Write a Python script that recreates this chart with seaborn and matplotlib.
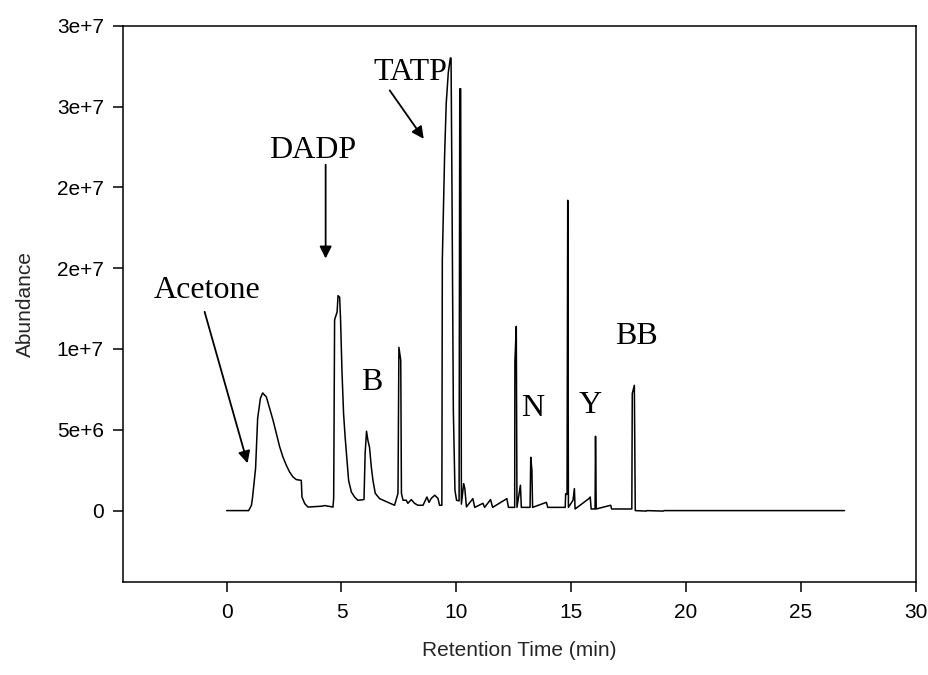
import matplotlib
matplotlib.use("Agg")
import matplotlib.pyplot as plt
import seaborn as sns
import pandas as pd

# Chromatogram trace (retention time in min, abundance)
retention_time = [
    0.00, 0.96, 1.08, 1.13, 1.26, 1.35, 1.47, 1.57, 1.73, 1.87, 2.02, 2.16, 2.31,
    2.45, 2.60, 2.74, 2.89, 3.03, 3.25, 3.28, 3.40, 3.54, 4.12, 4.27, 4.63,
    4.66, 4.70, 4.81, 4.85, 4.92, 4.96, 5.02, 5.09, 5.16, 5.24, 5.31, 5.43,
    5.57, 5.71, 5.98, 6.03, 6.09, 6.15, 6.22, 6.30, 6.37, 6.47, 6.66, 7.31,
    7.46, 7.50, 7.58, 7.61, 7.68, 7.82, 7.89, 8.04, 8.18, 8.33, 8.55, 8.72,
    8.81, 8.91, 9.06, 9.20, 9.27, 9.37, 9.39, 9.49, 9.56, 9.65, 9.74, 9.77,
    9.81, 9.87, 9.94, 10.01, 10.12, 10.15, 10.19, 10.22, 10.32, 10.37, 10.44,
    10.72, 10.80, 11.16, 11.23, 11.49, 11.58, 12.20, 12.27, 12.54, 12.55,
    12.61, 12.64, 12.79, 12.83, 13.21, 13.24, 13.29, 13.32, 13.92, 13.98,
    14.74, 14.76, 14.82, 14.85, 14.88, 15.08, 15.14, 15.17, 15.77, 15.83,
    15.87, 16.04, 16.06, 16.09, 16.72, 16.76, 17.64, 17.66, 17.75, 17.79,
    18.27, 18.30, 19.00, 19.05, 26.90,
]
abundance = [
    0, 0, 3.3e5, 8.4e5, 2.62e6, 5.71e6, 6.95e6, 7.28e6, 7.03e6, 6.33e6, 5.59e6,
    4.78e6, 3.94e6, 3.32e6, 2.80e6, 2.39e6, 2.08e6, 1.92e6, 1.87e6, 8.4e5,
    4.3e5, 2.2e5, 2.7e5, 3.1e5, 2.2e5,
    7.6e5, 1.18e7, 1.23e7, 1.33e7, 1.32e7, 1.18e7, 8.68e6, 6.02e6, 4.53e6,
    3.11e6, 1.87e6, 1.15e6, 8.4e5, 6.4e5, 6.8e5, 3.55e6, 4.91e6, 4.35e6,
    3.92e6, 2.68e6, 1.87e6, 1.07e6, 7.4e5, 3.3e5,
    1.07e6, 1.01e7, 9.3e6, 1.07e6, 6.4e5, 6.4e5, 4.5e5, 6.8e5, 4.5e5, 3.3e5,
    3.3e5, 8.4e5, 5.1e5, 7.6e5, 9.5e5, 7.6e5, 3.3e5, 3.3e5,
    1.55e7, 2.20e7, 2.52e7, 2.71e7, 2.80e7, 2.80e7, 2.00e7, 6.2e6, 1.26e6,
    6.4e5, 6.0e5, 2.61e7, 2.61e7, 4.0e5, 1.67e6, 1.36e6, 2.3e5,
    7.4e5, 2.0e5, 4.5e5, 2.0e5, 6.8e5, 2.0e5, 7.4e5, 2.0e5, 2.0e5, 9.2e6,
    1.14e7, 2.0e5, 1.57e6, 2.0e5, 2.0e5, 3.3e6, 2.5e6, 2.0e5, 5.1e5, 2.0e5,
    2.0e5, 1.05e6, 1.0e6, 1.92e7, 2.0e5, 6.4e5, 1.36e6, 1.0e5, 7.4e5, 8.4e5,
    1.0e5, 1.0e5, 4.6e6, 1.0e5, 3.3e5, 1.0e5, 1.0e5, 7.24e6, 7.75e6, 0,
    -3.0e4, 0, -3.0e4, 0, 0,
]

x_ticks = [0, 5, 10, 15, 20, 25, 30]
y_ticks = [0, 5e6, 1e7, 1.5e7, 2e7, 2.5e7, 3e7]
y_tick_labels = ["0", "5e+6", "1e+7", "2e+7", "2e+7", "3e+7", "3e+7"]

# Peak annotations: label, text position, arrow tail and tip (None = no arrow)
labels = ["Acetone", "DADP", "TATP", "B", "N", "Y", "BB"]
label_t = [-0.83, 3.74, 8.01, 6.31, 13.32, 15.85, 17.85]
label_a = [1.36e7, 2.23e7, 2.71e7, 7.9e6, 6.3e6, 6.5e6, 1.08e7]
arrow_tail_t = [-0.96, 4.31, 7.10, None, None, None, None]
arrow_tail_a = [1.23e7, 2.14e7, 2.60e7, None, None, None, None]
arrow_tip_t = [0.91, 4.31, 8.58, None, None, None, None]
arrow_tip_a = [2.93e6, 1.56e7, 2.30e7, None, None, None, None]

sns.set_theme(style="ticks")
plt.rcParams["font.family"] = ["Liberation Sans", "DejaVu Sans"]

fig = plt.figure(figsize=(9.29, 6.75), dpi=100)
ax = fig.add_axes([0.1327, 0.1382, 0.9857 - 0.1327, 0.9619 - 0.1382])

df = pd.DataFrame({"t": retention_time, "a": abundance})
sns.lineplot(data=df, x="t", y="a", sort=False, estimator=None,
             color="black", linewidth=1.1, ax=ax)

ax.set_xlim(-4.5, 30)
ax.set_ylim(-4.4e6, 3.0e7)
ax.set_xticks(x_ticks)
ax.set_xticklabels([str(v) for v in x_ticks])
ax.set_yticks(y_ticks)
ax.set_yticklabels(y_tick_labels)
ax.tick_params(axis="both", direction="out", length=7, width=1.1,
               labelsize=15, colors="black")
ax.tick_params(axis="y", pad=7)
ax.tick_params(axis="x", pad=8)
for s in ax.spines.values():
    s.set_visible(True)
    s.set_linewidth(1.1)
    s.set_color("black")

ax.set_xlabel("Retention Time (min)", fontsize=15, labelpad=14)
ax.set_ylabel("Abundance", fontsize=15, labelpad=16)

for i, lab in enumerate(labels):
    ax.text(label_t[i], label_a[i], lab, family=["Liberation Serif", "DejaVu Serif"],
            fontsize=23, ha="center", va="center", color="black")
    if arrow_tip_t[i] is not None:
        ax.annotate("", xy=(arrow_tip_t[i], arrow_tip_a[i]),
                    xytext=(arrow_tail_t[i], arrow_tail_a[i]),
                    arrowprops=dict(arrowstyle="-|>", color="black", lw=1.3,
                                    mutation_scale=18, shrinkA=0, shrinkB=0))

fig.savefig("out.png", dpi=100)
